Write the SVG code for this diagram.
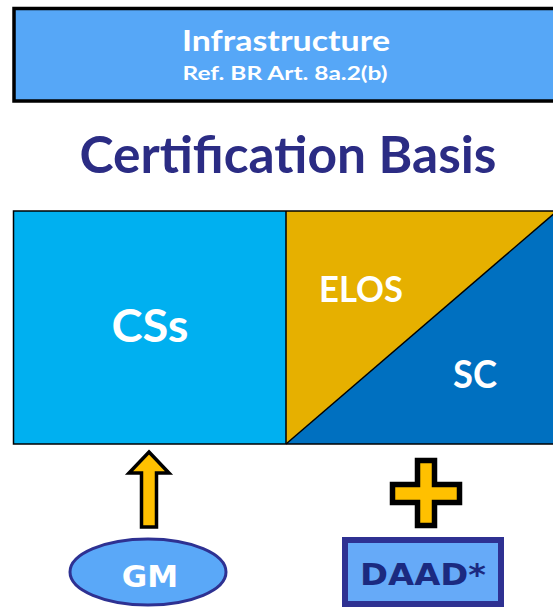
<svg xmlns="http://www.w3.org/2000/svg" width="553" height="608" viewBox="0 0 553 608">
<style>
.lato{font-family:Lato,"Open Sans","Liberation Sans",sans-serif;font-weight:bold}
.dv{font-family:"DejaVu Sans",Verdana,sans-serif;font-weight:bold}
.w{fill:#ffffff}
</style>
<rect x="0" y="0" width="553" height="608" fill="#ffffff"/>
<g id="infrastructure">
<rect x="14" y="8.5" width="545" height="92.5" fill="#56A7F7" stroke="#000000" stroke-width="3.5"/>
<text class="lato w" x="286" y="51" font-size="29" text-anchor="middle" textLength="208" lengthAdjust="spacingAndGlyphs">Infrastructure</text>
<text class="lato w" x="285" y="80" font-size="18" text-anchor="middle" textLength="205" lengthAdjust="spacingAndGlyphs">Ref. BR Art. 8a.2(b)</text>
</g>
<g id="title">
<text class="lato" x="288" y="173" font-size="51" fill="#2B2C84" text-anchor="middle" textLength="417" lengthAdjust="spacingAndGlyphs">Certification Basis</text>
</g>
<g id="css">
<rect x="13.5" y="211" width="272.5" height="233" fill="#00B0F0"/>
<text class="lato w" x="150" y="342" font-size="46" text-anchor="middle" textLength="77" lengthAdjust="spacingAndGlyphs">CSs</text>
</g>
<g id="elos">
<polygon points="286,211 557,211 286,444" fill="#E6B000"/>
<text class="lato w" x="361" y="302" font-size="37" text-anchor="middle" textLength="84" lengthAdjust="spacingAndGlyphs">ELOS</text>
</g>
<g id="sc">
<polygon points="286,444 557,211 557,444" fill="#0070C0"/>
<line x1="286" y1="444" x2="557" y2="211" stroke="#000000" stroke-width="1.5"/>
<text class="lato w" x="475" y="388" font-size="38" text-anchor="middle" textLength="44" lengthAdjust="spacingAndGlyphs">SC</text>
</g>
<g id="frame" fill="none" stroke="#000000" stroke-width="1.5">
<rect x="13.5" y="211" width="545" height="233"/>
<line x1="286" y1="211" x2="286" y2="444"/>
</g>
<g id="connectors">
<polygon points="149,452 169,473 156.5,473 156.5,527 141.5,527 141.5,473 129,473" fill="#FFC000" stroke="#000000" stroke-width="3.5" stroke-linejoin="miter"/>
</g>
<g id="plus">
<polygon points="417.5,460.5 434.5,460.5 434.5,484.5 459.5,484.5 459.5,502.5 434.5,502.5 434.5,525.5 417.5,525.5 417.5,502.5 392.5,502.5 392.5,484.5 417.5,484.5" fill="#FFC000" stroke="#000000" stroke-width="5.5"/>
</g>
<g id="gm">
<ellipse cx="148" cy="572" rx="78" ry="33" fill="#5AA8F8" stroke="#2E3192" stroke-width="3"/>
<text class="dv w" x="150" y="587" font-size="31" text-anchor="middle">GM</text>
</g>
<g id="daad">
<rect x="345" y="540" width="156" height="64" fill="#66AAF8" stroke="#2E3192" stroke-width="6"/>
<text class="dv" x="423" y="585" font-size="31" fill="#1B2A80" text-anchor="middle" textLength="126" lengthAdjust="spacingAndGlyphs">DAAD*</text>
</g>
</svg>
